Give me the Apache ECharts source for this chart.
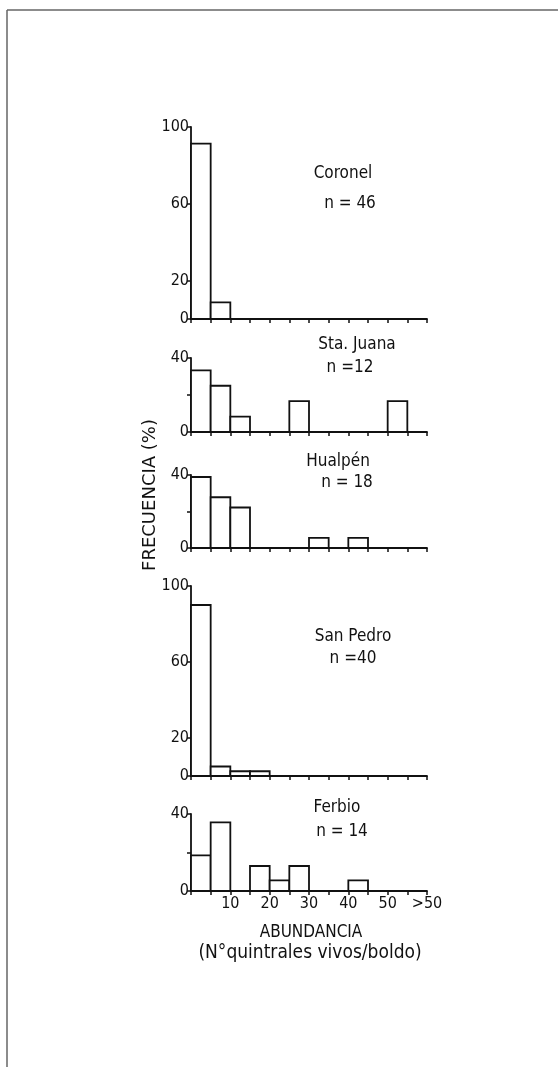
<!DOCTYPE html>
<html>
<head>
<meta charset="utf-8">
<script src="https://cdn.jsdelivr.net/npm/echarts@6/dist/echarts.min.js"></script>
<style>
html,body{margin:0;padding:0;background:#fff;}
#chart{width:558px;height:1067px;}
</style>
</head>
<body>
<div id="chart"></div>
<script>
// ---- data ----
var binStarts = [0, 5, 10, 15, 20, 25, 30, 35, 40, 45, 50, 55];
var binWidth = 5;
var xTickLabels = ['10', '20', '30', '40', '50', '>50'];
var xTickValues = [10, 20, 30, 40, 50, 60];
var sites = ['Coronel', 'Sta. Juana', 'Hualpén', 'San Pedro', 'Ferbio'];
var sampleSizes = ['n = 46', 'n =12', 'n = 18', 'n =40', 'n = 14'];
var coronel   = [91.3, 8.7, 0, 0, 0, 0, 0, 0, 0, 0, 0, 0];
var staJuana  = [33.3, 25.0, 8.3, 0, 0, 16.7, 0, 0, 0, 0, 16.7, 0];
var hualpen   = [38.9, 27.8, 22.2, 0, 0, 0, 5.6, 0, 5.6, 0, 0, 0];
var sanPedro  = [90.0, 5.0, 2.5, 2.5, 0, 0, 0, 0, 0, 0, 0, 0];
var ferbio    = [18.5, 35.7, 0, 13.0, 5.5, 13.0, 0, 0, 5.5, 0, 0, 0];
var yMax = [100, 40, 40, 100, 40];
var yTicks100 = [0, 20, 60, 100];
var yTicks40 = [0, 20, 40];
var yLabels40 = [0, 40];
var yAxisTitle = 'FRECUENCIA (%)';
var xAxisTitle1 = 'ABUNDANCIA';
var xAxisTitle2 = '(N°quintrales vivos/boldo)';

var seriesValues = [coronel, staJuana, hualpen, sanPedro, ferbio];

// ---- layout ----
var FONT = '"DejaVu Sans Condensed", "DejaVu Sans", sans-serif';
var INK = '#111';
var gridBoxes = [
  {top: 127, height: 192},
  {top: 358, height: 74},
  {top: 475, height: 73},
  {top: 586, height: 190},
  {top: 814, height: 77}
];
var labelPos = [
  [{x: 343, y: 174}, {x: 350, y: 204}],
  [{x: 357, y: 345}, {x: 350, y: 368}],
  [{x: 338, y: 462}, {x: 347, y: 483}],
  [{x: 353, y: 637}, {x: 353, y: 659}],
  [{x: 337, y: 808}, {x: 342, y: 832}]
];

function renderItem(params, api) {
  var x0 = api.value(0), v = api.value(1);
  if (!v) return null;
  var p0 = api.coord([x0, 0]);
  var p1 = api.coord([x0 + binWidth, v]);
  return {
    type: 'rect',
    shape: {x: p0[0], y: p1[1], width: p1[0] - p0[0], height: p0[1] - p1[1]},
    style: {fill: '#fff', stroke: INK, lineWidth: 1.8}
  };
}

var grids = [], xAxes = [], yAxes = [], series = [], graphics = [];
for (var i = 0; i < 5; i++) {
  grids.push({left: 191, right: 131, top: gridBoxes[i].top, height: gridBoxes[i].height});
  var isLast = (i === 4);
  xAxes.push({
    type: 'value', gridIndex: i, min: 0, max: 60, interval: binWidth,
    axisLine: {show: true, onZero: false, lineStyle: {color: INK, width: 1.8}},
    axisTick: {show: true, length: 4, lineStyle: {color: INK, width: 1.5}},
    splitLine: {show: false},
    axisLabel: isLast ? {
      show: true, customValues: xTickValues, margin: 5,
      color: INK, fontFamily: FONT, fontSize: 16,
      formatter: function (v) { return xTickLabels[xTickValues.indexOf(v)]; }
    } : {show: false}
  });
  var is100 = yMax[i] === 100;
  yAxes.push({
    type: 'value', gridIndex: i, min: 0, max: yMax[i], interval: 20,
    axisLine: {show: true, lineStyle: {color: INK, width: 1.8}},
    axisTick: {show: true, length: 4, customValues: is100 ? yTicks100 : yTicks40, lineStyle: {color: INK, width: 1.5}},
    splitLine: {show: false},
    axisLabel: {
      show: true, customValues: is100 ? yTicks100 : yLabels40, margin: 2,
      color: INK, fontFamily: FONT, fontSize: 16
    }
  });
  series.push({
    type: 'custom', xAxisIndex: i, yAxisIndex: i,
    renderItem: renderItem,
    data: binStarts.map(function (b, k) { return [b, seriesValues[i][k]]; })
  });
  graphics.push({type: 'text', x: labelPos[i][0].x, y: labelPos[i][0].y,
    style: {text: sites[i], fill: INK, font: '17px ' + FONT, textAlign: 'center', textVerticalAlign: 'middle'}});
  graphics.push({type: 'text', x: labelPos[i][1].x, y: labelPos[i][1].y,
    style: {text: sampleSizes[i], fill: INK, font: '17px ' + FONT, textAlign: 'center', textVerticalAlign: 'middle'}});
}

graphics.push({type: 'text', x: 150, y: 495, rotation: Math.PI / 2,
  style: {text: yAxisTitle, fill: INK, font: '18px "DejaVu Sans", sans-serif', textAlign: 'center', textVerticalAlign: 'middle'}});
graphics.push({type: 'text', x: 311, y: 933,
  style: {text: xAxisTitle1, fill: INK, font: '17px ' + FONT, textAlign: 'center', textVerticalAlign: 'middle'}});
graphics.push({type: 'text', x: 310, y: 953,
  style: {text: xAxisTitle2, fill: INK, font: '19px ' + FONT, textAlign: 'center', textVerticalAlign: 'middle'}});
// page frame (scan border)
graphics.push({type: 'line', shape: {x1: 7, y1: 10, x2: 558, y2: 10}, style: {stroke: '#666', lineWidth: 1.5}});
graphics.push({type: 'line', shape: {x1: 7, y1: 10, x2: 7, y2: 1067}, style: {stroke: '#666', lineWidth: 1.5}});

var chart = echarts.init(document.getElementById('chart'), null, {renderer: 'canvas'});
chart.setOption({
  backgroundColor: '#fff',
  animation: false,
  grid: grids,
  xAxis: xAxes,
  yAxis: yAxes,
  series: series,
  graphic: graphics
});
</script>
</body>
</html>
